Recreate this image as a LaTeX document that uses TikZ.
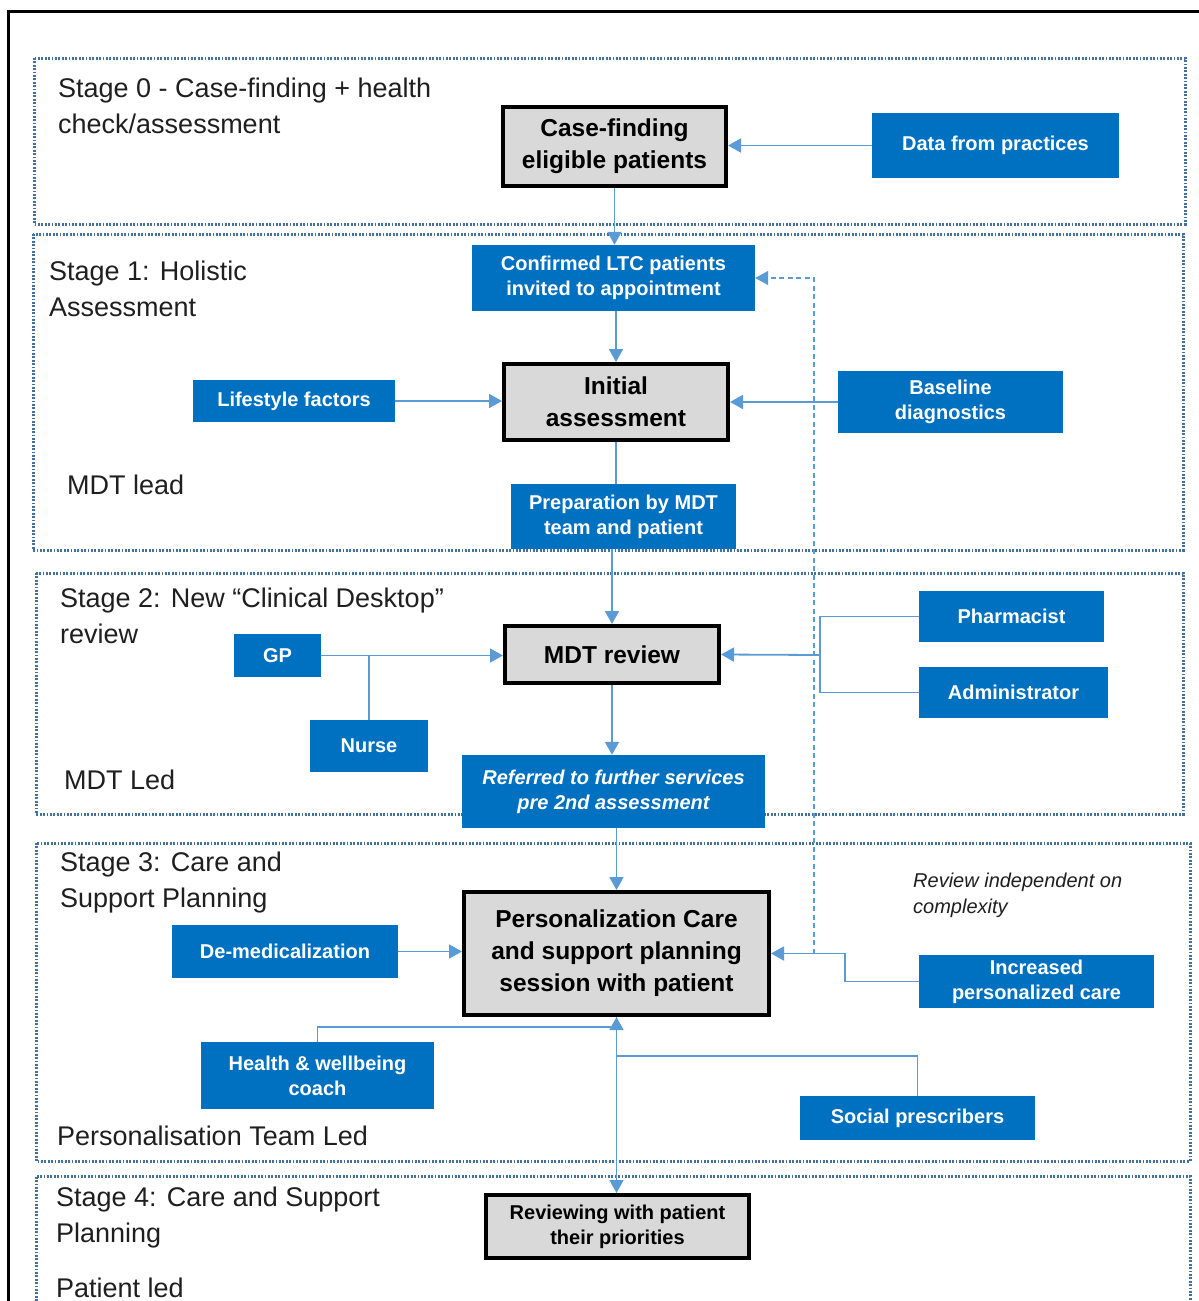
\documentclass[tikz,border=0pt]{standalone}
\usepackage{fontspec}
\setmainfont{Liberation Sans}
\usetikzlibrary{arrows.meta}
\definecolor{boxblue}{HTML}{0070C0}
\definecolor{linkblue}{HTML}{5B9BD5}
\definecolor{stageblue}{HTML}{41719C}
\definecolor{boxgray}{HTML}{D9D9D9}
\definecolor{labelgray}{HTML}{1F1F1F}
\tikzset{
  bluebox/.style={fill=boxblue, draw=none, text=white, align=center, inner sep=0pt,
    font=\fontsize{20}{25}\selectfont\bfseries},
  graybox/.style={fill=boxgray, draw=black, line width=4pt, align=center, inner sep=0pt,
    font=\fontsize{24.5}{32}\selectfont\bfseries},
  stagelabel/.style={anchor=north west, inner sep=0pt, align=left, text=labelgray,
    font=\fontsize{27}{36}\selectfont},
  stagebox/.style={draw=stageblue, line width=3pt, dash pattern=on 1.8pt off 1.6pt},
  link/.style={draw=linkblue, line width=1.8pt},
  linkarrow/.style={link, -{Triangle[length=13pt,width=14pt]}},
  dashlink/.style={draw=linkblue, line width=1.4pt, dash pattern=on 5pt off 3.5pt,
    -{Triangle[length=13pt,width=14pt]}}
}
\begin{document}
\begin{tikzpicture}[x=1pt,y=-1pt]
\useasboundingbox (0,0) rectangle (1199,1301);
\fill[white] (0,0) rectangle (1199,1301);
% outer frame
\draw[line width=3pt, black] (8,1301) -- (8,11) -- (1199,11);
% stage frames
\draw[stagebox] (34,58) rectangle (1185,224);
\draw[stagebox] (33,234) rectangle (1183,550);
\draw[stagebox] (36,573) rectangle (1183,814);
\draw[stagebox] (36,843) rectangle (1190,1161);
\draw[stagebox] (36,1301) -- (36,1176) -- (1190,1176) -- (1190,1301);
% stage labels
\node[stagelabel] (st0) at (58,78) {Stage 0 - Case-finding + health\\check/assessment};
\node[stagelabel] (st1) at (49,261) {Stage 1: Holistic\\Assessment};
\node[stagelabel] (lead1) at (67,475) {MDT lead};
\node[stagelabel] (st2) at (60,588) {Stage 2: New “Clinical Desktop”\\review};
\node[stagelabel] (lead2) at (64,770) {MDT Led};
\node[stagelabel] (st3) at (60,852) {Stage 3: Care and\\Support Planning};
\node[stagelabel] (lead3) at (57,1126) {Personalisation Team Led};
\node[stagelabel] (st4) at (56,1187) {Stage 4: Care and Support\\Planning};
\node[stagelabel] (lead4) at (56,1278) {Patient led};
\node[anchor=north west, inner sep=0pt, align=left, text=labelgray,
  font=\fontsize{20}{26}\selectfont\itshape] (note) at (913,873) {Review independent on\\complexity};
% gray process boxes
\node[graybox, minimum width=223pt, minimum height=79pt] (cf) at (614.5,146.5) {Case-finding\\eligible patients};
\node[graybox, minimum width=224pt, minimum height=76pt] (init) at (616,402) {Initial\\assessment};
\node[graybox, minimum width=214pt, minimum height=57pt] (mdt) at (612,654.5) {MDT review};
\node[graybox, minimum width=305pt, minimum height=123pt] (pers) at (616.5,953.5) {Personalization Care\\and support planning\\session with patient};
\node[graybox, minimum width=263pt, minimum height=63pt, font=\fontsize{20}{25}\selectfont\bfseries] (rev) at (617.5,1226.5) {Reviewing with patient\\their priorities};
% blue boxes
\node[bluebox, minimum width=247pt, minimum height=65pt] (data) at (995.5,145.5) {Data from practices};
\node[bluebox, minimum width=283pt, minimum height=66pt] (conf) at (613.5,278) {Confirmed LTC patients\\invited to appointment};
\node[bluebox, minimum width=202pt, minimum height=42pt] (life) at (294,401) {Lifestyle factors};
\node[bluebox, minimum width=225pt, minimum height=62pt] (base) at (950.5,402) {Baseline\\diagnostics};
\node[bluebox, minimum width=225pt, minimum height=65pt] (prep) at (623.5,516.5) {Preparation by MDT\\team and patient};
\node[bluebox, minimum width=87pt, minimum height=43pt] (gp) at (277.5,655.5) {GP};
\node[bluebox, minimum width=118pt, minimum height=52pt] (nurse) at (369,746) {Nurse};
\node[bluebox, minimum width=185pt, minimum height=51pt] (pharm) at (1011.5,616.5) {Pharmacist};
\node[bluebox, minimum width=189pt, minimum height=51pt] (admin) at (1013.5,692.5) {Administrator};
\node[bluebox, minimum width=303pt, minimum height=73pt, font=\fontsize{20}{25}\selectfont\bfseries\itshape] (ref) at (613.5,791.5) {Referred to further services\\pre 2nd assessment};
\node[bluebox, minimum width=226pt, minimum height=53pt] (demed) at (285,951.5) {De-medicalization};
\node[bluebox, minimum width=235pt, minimum height=53pt] (incr) at (1036.5,981.5) {Increased\\personalized care};
\node[bluebox, minimum width=233pt, minimum height=67pt] (coach) at (317.5,1075.5) {Health \& wellbeing\\coach};
\node[bluebox, minimum width=235pt, minimum height=44pt] (social) at (917.5,1118) {Social prescribers};
% junction coordinates
\coordinate (j) at (820,655);
\coordinate (k) at (845,953.5);
\coordinate (d) at (814,953.5);
\coordinate (m) at (617,1056);
% connectors
\draw[linkarrow] (cf.south) -- (cf.south |- conf.north);
\draw[linkarrow] (data.west) -- (cf.east |- data.west);
\draw[linkarrow] (init.north |- conf.south) -- (init.north);
\draw[linkarrow] (life.east) -- (init.west |- life.east);
\draw[linkarrow] (base.west) -- (init.east |- base.west);
\draw[link] (init.south) -- (init.south |- prep.north);
\draw[linkarrow] (mdt.north |- prep.south) -- (mdt.north);
\draw[linkarrow] (gp.east) -- (mdt.west |- gp.east);
\draw[link] (nurse.north) -- (nurse.north |- gp.east);
\draw[link] (pharm.west) -- (pharm.west -| j) -- (admin.west -| j) -- (admin.west);
\draw[linkarrow] (j) -- (mdt.east);
\draw[linkarrow] (mdt.south) -- (mdt.south |- ref.north);
\draw[linkarrow] (pers.north |- ref.south) -- (pers.north);
\draw[linkarrow] (demed.east) -- (pers.west |- demed.east);
\draw[linkarrow] (incr.west) -| (k) -- (pers.east);
\draw[dashlink] (d) |- (conf.east);
\draw[linkarrow] (coach.north) -- ++(0,-15) -| (pers.south);
\draw[link] (social.north) |- (m);
\draw[linkarrow] (pers.south) -- (pers.south |- rev.north);
\end{tikzpicture}
\end{document}
